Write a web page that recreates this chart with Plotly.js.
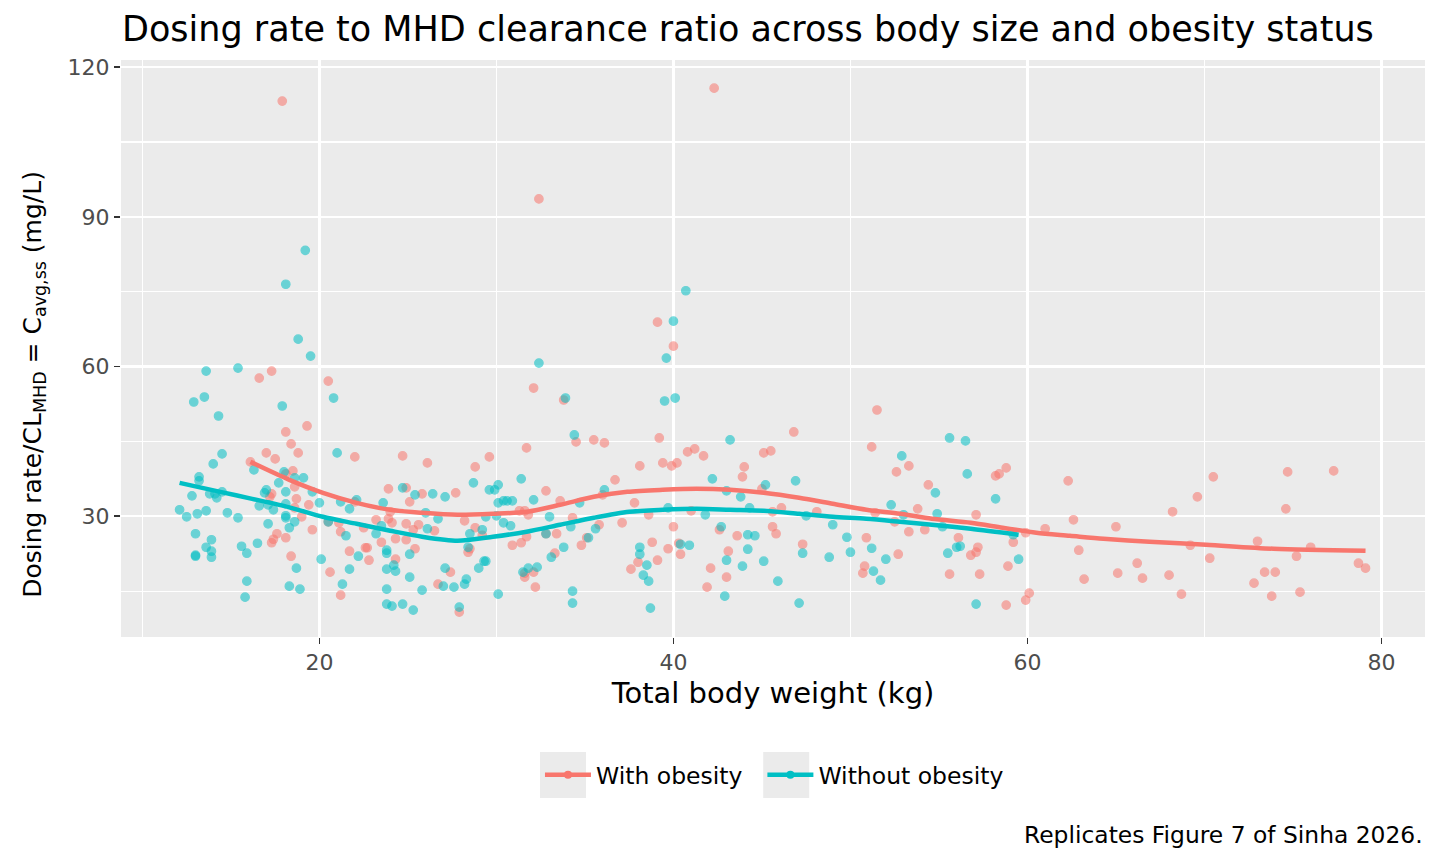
<!DOCTYPE html>
<html>
<head>
<meta charset="utf-8">
<script src="https://cdn.plot.ly/plotly-3.0.1.min.js"></script>
<style>
  html, body { margin: 0; padding: 0; background: #ffffff; }
  #chart { width: 1440px; height: 864px; }
</style>
</head>
<body>
<div id="chart"></div>
<script>
// total body weight (kg) and dosing rate / CL ratio (mg/L)
const wtObese = [
  17.9, 16.6, 17.3, 18.1, 18.4, 17.0, 17.5, 16.1, 18.1, 18.5, 18.8, 18.6, 18.7, 17.3, 17.2, 18.6,
  17.6, 17.4, 17.3, 18.1, 18.4, 20.5, 19.3, 22.0, 24.7, 26.1, 19.4, 19.0, 19.6, 20.6, 21.2, 21.7,
  20.5, 21.1, 21.2, 22.0, 22.5, 23.2, 22.6, 22.7, 22.8, 23.5, 23.9, 24.9, 25.1, 23.9, 24.1, 24.0,
  24.3, 24.9, 24.9, 25.6, 25.4, 24.3, 25.3, 25.8, 27.7, 26.5, 26.7, 27.4, 28.2, 28.4, 27.9, 28.5,
  32.4, 32.1, 33.8, 34.5, 35.5, 36.1, 31.7, 29.6, 28.8, 36.7, 32.8, 33.6, 31.3, 31.6, 31.8, 28.8,
  29.2, 30.9, 31.4, 31.7, 33.4, 32.8, 34.3, 35.1, 34.8, 35.8, 33.3, 31.6, 31.6, 32.1, 32.2, 36.0,
  37.1, 37.6, 37.8, 38.1, 38.0, 42.3, 39.1, 40.0, 39.2, 40.8, 41.2, 41.7, 39.4, 39.9, 40.2, 44.0,
  43.9, 45.1, 45.5, 46.8, 45.0, 38.6, 41.0, 40.0, 42.6, 43.6, 45.6, 45.8, 45.6, 46.1, 38.8, 39.7,
  40.3, 40.4, 39.1, 43.1, 42.1, 43.0, 41.9, 47.3, 51.5, 51.2, 52.6, 53.3, 54.4, 53.8, 48.1, 51.4,
  52.5, 53.3, 54.2, 50.9, 52.7, 50.8, 50.7, 55.6, 56.1, 56.8, 57.1, 57.2, 57.1, 57.3, 58.8, 58.4,
  58.2, 58.9, 59.2, 59.9, 60.1, 59.9, 58.8, 61.0, 62.3, 62.6, 62.9, 63.2, 65.0, 65.1, 66.2, 66.5,
  70.5, 69.6, 68.2, 74.7, 77.3, 74.6, 69.2, 73.0, 76.0, 75.2, 70.3, 68.0, 68.7, 73.4, 74.0, 72.8,
  73.8, 75.4, 78.7, 79.1
];
const ratioObese = [
  113.2, 57.7, 59.1, 46.9, 44.5, 42.7, 41.5, 40.9, 38.5, 39.1, 42.7, 35.9, 33.5, 34.5, 33.9, 31.7,
  26.5, 25.4, 24.7, 25.7, 22.0, 57.1, 48.1, 41.9, 42.1, 40.7, 32.3, 29.9, 27.3, 18.8, 14.2, 23.0,
  28.9, 28.7, 26.9, 32.9, 27.7, 29.3, 23.7, 23.7, 21.2, 24.8, 35.5, 35.7, 32.9, 29.5, 28.7, 30.9,
  25.5, 25.3, 28.5, 28.3, 23.5, 21.4, 27.3, 34.5, 34.7, 27.1, 16.4, 18.8, 29.1, 22.8, 10.8, 23.5,
  93.6, 55.7, 53.3, 44.9, 45.3, 44.7, 43.7, 41.9, 39.9, 37.3, 35.1, 33.1, 31.1, 31.1, 30.3, 27.7,
  26.2, 24.2, 24.7, 25.9, 26.5, 26.5, 29.7, 25.7, 24.2, 28.3, 22.6, 18.6, 17.8, 18.8, 15.8, 34.3,
  28.7, 19.4, 32.7, 40.1, 20.8, 115.8, 68.9, 64.1, 45.7, 42.9, 43.5, 42.1, 40.7, 40.1, 40.7, 39.9,
  37.9, 42.7, 43.1, 46.9, 35.5, 30.3, 31.1, 27.9, 27.3, 26.1, 27.9, 26.5, 30.9, 31.7, 24.8, 23.5,
  24.6, 22.4, 21.2, 23.0, 19.6, 17.8, 15.8, 24.4, 51.3, 43.9, 38.9, 40.1, 36.3, 31.5, 30.9, 30.7,
  28.9, 26.9, 27.3, 25.7, 22.4, 20.0, 18.6, 18.4, 25.7, 22.2, 22.8, 23.8, 30.3, 18.4, 39.7, 38.5,
  38.1, 20.0, 24.8, 26.7, 14.6, 13.2, 12.2, 27.5, 37.1, 29.3, 23.2, 17.4, 27.9, 18.6, 20.6, 17.6,
  37.9, 33.9, 30.9, 38.9, 39.1, 31.5, 24.2, 25.0, 23.8, 22.0, 21.6, 18.2, 14.4, 18.8, 18.8, 16.6,
  14.0, 14.8, 20.6, 19.6
];

const wtLean = [
  13.6, 15.4, 12.9, 13.5, 14.3, 17.9, 14.5, 14.0, 16.3, 13.2, 13.2, 12.8, 13.8, 14.1, 14.5, 14.2,
  12.1, 12.5, 13.1, 13.6, 14.8, 15.4, 13.0, 13.9, 13.6, 13.9, 13.9, 13.0, 13.0, 15.6, 15.9, 16.5,
  15.9, 15.8, 17.1, 16.9, 17.0, 17.7, 18.1, 16.6, 17.1, 17.4, 18.1, 18.1, 18.1, 18.6, 18.3, 18.7,
  18.3, 18.9, 18.0, 18.8, 19.5, 20.8, 21.0, 19.1, 18.6, 19.6, 20.0, 21.2, 21.7, 22.1, 20.5, 21.5,
  20.1, 22.2, 21.7, 21.3, 23.6, 23.5, 23.2, 23.8, 23.8, 23.8, 24.2, 24.3, 23.8, 23.8, 24.1, 24.7,
  25.3, 25.1, 25.1, 24.7, 25.4, 26.4, 27.1, 26.0, 26.1, 26.7, 25.8, 27.1, 27.0, 27.6, 28.2, 28.3,
  27.9, 28.5, 28.4, 32.4, 33.9, 34.4, 28.7, 29.6, 29.9, 30.1, 31.4, 30.1, 30.4, 30.6, 30.9, 32.1,
  29.4, 30.0, 30.4, 30.8, 29.2, 29.4, 29.3, 29.0, 30.1, 31.5, 31.8, 32.3, 33.0, 32.8, 34.7, 34.2,
  35.2, 35.6, 33.8, 33.1, 34.3, 34.3, 36.1, 38.1, 38.1, 40.7, 40.0, 39.6, 39.5, 40.1, 43.2, 42.2,
  43.0, 43.8, 44.3, 45.2, 46.9, 39.7, 41.8, 47.5, 42.7, 44.2, 44.6, 40.4, 40.9, 38.5, 38.3, 38.6,
  38.7, 43.0, 44.2, 43.9, 45.1, 45.9, 42.9, 47.1, 47.3, 49.0, 49.8, 50.0, 48.8, 51.2, 51.3, 51.7,
  52.0, 52.3, 52.9, 53.0, 54.8, 54.9, 55.2, 55.6, 56.5, 56.6, 55.5, 56.0, 56.2, 57.1, 58.2, 59.2,
  59.5, 19.2, 18.1
];
const ratioLean = [
  59.1, 59.7, 52.9, 53.9, 50.1, 52.1, 42.5, 40.5, 39.3, 37.9, 37.1, 34.1, 34.5, 34.5, 34.9, 33.7,
  31.3, 29.9, 30.5, 31.1, 30.7, 29.7, 26.5, 25.3, 23.8, 23.0, 21.8, 22.2, 22.0, 24.0, 22.6, 24.6,
  17.0, 13.8, 28.5, 34.7, 35.3, 36.7, 34.9, 32.1, 32.3, 31.3, 32.5, 30.1, 29.7, 28.9, 27.7, 19.6,
  16.0, 15.4, 38.9, 65.5, 62.1, 53.7, 42.7, 37.7, 37.7, 34.9, 32.7, 32.9, 31.5, 33.3, 28.9, 26.1,
  21.4, 22.0, 19.4, 16.4, 32.7, 28.1, 26.5, 23.2, 22.6, 19.4, 20.2, 19.0, 15.4, 12.4, 12.0, 12.4,
  11.2, 22.4, 17.8, 35.7, 34.3, 34.5, 33.9, 30.7, 27.5, 29.5, 15.2, 19.6, 16.0, 15.8, 16.4, 17.4,
  11.8, 26.5, 23.8, 60.7, 53.7, 46.3, 36.7, 35.3, 35.3, 36.3, 37.5, 32.7, 33.1, 33.1, 33.1, 33.3,
  29.9, 30.1, 28.7, 28.1, 27.3, 21.0, 21.0, 19.6, 14.4, 18.8, 19.6, 19.8, 29.9, 26.5, 32.7, 27.9,
  25.7, 27.5, 23.8, 21.8, 15.0, 12.6, 35.3, 23.8, 22.4, 75.2, 69.1, 61.7, 53.1, 53.7, 45.3, 37.5,
  35.1, 33.9, 31.7, 36.3, 37.1, 31.7, 30.3, 30.1, 27.9, 26.3, 26.1, 24.4, 24.2, 20.2, 18.2, 17.0,
  11.6, 21.2, 23.4, 20.0, 21.0, 17.0, 14.0, 12.6, 22.6, 28.3, 25.8, 22.8, 21.8, 23.6, 19.0, 17.2,
  21.4, 32.3, 42.1, 30.3, 34.7, 30.5, 27.9, 45.7, 45.1, 38.5, 22.6, 23.8, 24.0, 12.4, 33.5, 26.3,
  21.4, 83.3, 76.5
];

// loess smooth curves as drawn in the figure
const smoothWtObese = [16.1, 18.3, 20.2, 22.1, 24.0, 25.8, 27.8, 29.8, 31.7, 33.6, 35.5, 37.4, 39.4,
  41.3, 43.2, 45.1, 47.1, 49.0, 50.9, 52.8, 54.6, 56.8, 58.6, 60.5, 62.4, 64.3, 66.9, 70.1, 73.9, 79.1];
const smoothObese = [40.9, 37.3, 34.7, 32.7, 31.3, 30.7, 30.3, 30.5, 30.9, 32.3, 33.9, 34.9, 35.3,
  35.5, 35.3, 34.7, 33.7, 32.5, 31.3, 30.5, 29.5, 28.7, 27.7, 26.7, 26.1, 25.5, 24.9, 24.3, 23.5, 23.1];
const smoothWtLean = [12.1, 14.4, 16.2, 18.3, 20.2, 22.1, 24.0, 25.8, 27.8, 29.8, 31.7, 33.6, 35.5,
  37.5, 39.4, 41.3, 43.2, 45.1, 47.1, 49.0, 50.9, 52.8, 54.6, 56.8, 59.5];
const smoothLean = [36.7, 34.9, 33.5, 31.8, 29.9, 28.5, 27.1, 25.9, 25.1, 25.9, 26.9, 28.3, 29.7,
  30.9, 31.3, 31.5, 31.3, 31.1, 30.5, 29.9, 29.5, 28.9, 28.3, 27.5, 26.3];

const groupNames = ["With obesity", "Without obesity"];
const red = "#F8766D";
const teal = "#00BFC4";
const font = "DejaVu Sans, sans-serif";

function pointTrace(x, y, col) {
  return {
    x: x, y: y, type: "scatter", mode: "markers", showlegend: false, hoverinfo: "skip",
    marker: { size: 8.5, color: col, opacity: 0.55, line: { color: col, width: 1.2 } }
  };
}
function smoothTrace(x, y, col) {
  return {
    x: x, y: y, type: "scatter", mode: "lines", showlegend: false, hoverinfo: "skip",
    line: { color: col, width: 4.5, shape: "spline", smoothing: 0.8 }
  };
}
function keyTrace(name, col) {
  return {
    x: [null], y: [null], type: "scatter", mode: "lines+markers", name: name,
    line: { color: col, width: 4.5 }, marker: { color: col, size: 8 }
  };
}

let data = [
  pointTrace(wtObese, ratioObese, red),
  pointTrace(wtLean, ratioLean, teal),
  smoothTrace(smoothWtObese, smoothObese, red),
  smoothTrace(smoothWtLean, smoothLean, teal),
  // trailing no-break spaces widen the gap before the next key, as in ggplot
  keyTrace(groupNames[0] + "\u00A0\u00A0", red),
  keyTrace(groupNames[1], teal)
];

let axisCommon = {
  showline: false, zeroline: false,
  gridcolor: "#FFFFFF", gridwidth: 2.2,
  ticks: "outside", ticklen: 6, tickwidth: 1.6, tickcolor: "#333333",
  tickfont: { family: font, size: 22, color: "#4D4D4D" }
};

// grey legend key backgrounds (ggplot style)
function keyBox(x0) {
  return {
    type: "rect", xref: "paper", yref: "paper", layer: "below",
    x0: x0, x1: x0 + 46 / 1304, y0: -0.279, y1: -0.1993,
    fillcolor: "#EBEBEB", line: { width: 0 }
  };
}

let layout = {
  width: 1440, height: 864,
  paper_bgcolor: "#FFFFFF", plot_bgcolor: "#EBEBEB",
  margin: { l: 121, r: 15, t: 60, b: 227 },
  font: { family: font, color: "#000000" },
  title: {
    text: "Dosing rate to MHD clearance ratio across body size and obesity status",
    font: { family: font, size: 35, color: "#000000" },
    xref: "container", x: 122 / 1440, xanchor: "left",
    yref: "container", y: 1 - 29 / 864, yanchor: "middle"
  },
  xaxis: Object.assign({}, axisCommon, {
    range: [8.79, 82.46], tick0: 0, dtick: 20,
    minor: { dtick: 10, showgrid: true, gridcolor: "#FFFFFF", gridwidth: 1.1, ticks: "" },
    title: { text: "Total body weight (kg)", font: { family: font, size: 29, color: "#000000" }, standoff: 8 }
  }),
  yaxis: Object.assign({}, axisCommon, {
    range: [5.81, 121.44], tick0: 0, dtick: 30,
    minor: { dtick: 15, showgrid: true, gridcolor: "#FFFFFF", gridwidth: 1.1, ticks: "" }
  }),
  annotations: [
    {
      text: "Dosing rate/CL<sub>MHD</sub> = C<sub>avg,ss</sub> (mg/L)",
      xref: "paper", yref: "paper", x: -0.0667, y: 0.437,
      xanchor: "center", yanchor: "middle", textangle: -90, showarrow: false,
      font: { family: font, size: 25, color: "#000000" }
    },
    {
      text: "Replicates Figure 7 of Sinha 2026.",
      xref: "paper", yref: "paper", x: 1, y: -0.343,
      xanchor: "right", yanchor: "middle", showarrow: false,
      font: { family: font, size: 23.4, color: "#000000" }
    }
  ],
  shapes: [keyBox(0.3213), keyBox(0.4925)],
  showlegend: true,
  legend: {
    orientation: "h", x: 0.3213, xanchor: "left", y: -0.239, yanchor: "middle",
    bgcolor: "rgba(0,0,0,0)", font: { family: font, size: 23.5, color: "#000000" },
    itemwidth: 46
  }
};

Plotly.newPlot("chart", data, layout, { displayModeBar: false, staticPlot: true });
</script>
</body>
</html>
